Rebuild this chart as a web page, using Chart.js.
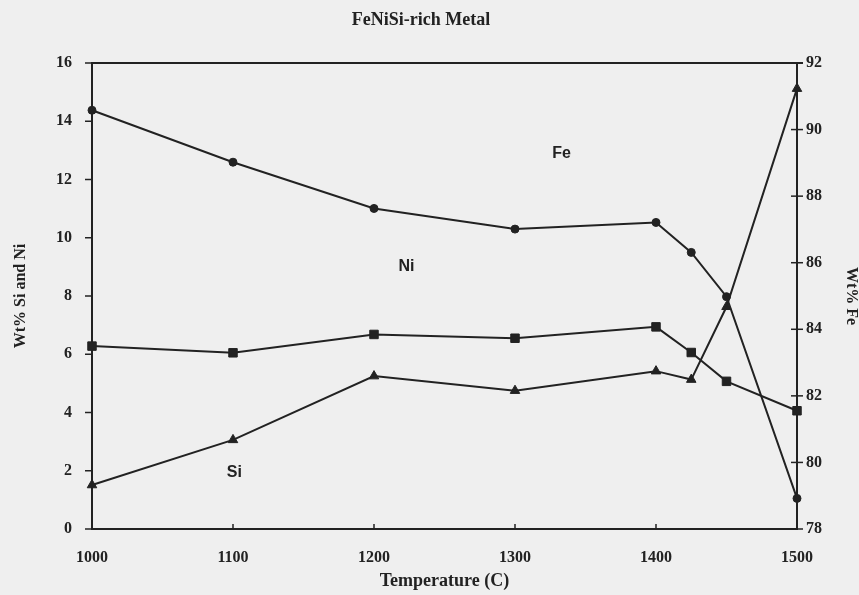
<!DOCTYPE html>
<html>
<head>
<meta charset="utf-8">
<script src="https://cdn.jsdelivr.net/npm/chart.js@4"></script>
<style>
html,body{margin:0;padding:0;background:#efefef;}
#wrap{width:859px;height:595px;position:relative;}
</style>
</head>
<body>
<div id="wrap"><canvas id="c" width="859" height="595"></canvas></div>
<script>
const temperatures = [1000, 1100, 1200, 1300, 1400, 1425, 1450, 1500];
const feValues = [90.58, 89.02, 87.63, 87.01, 87.21, 86.31, 84.98, 78.92];
const niValues = [6.28, 6.05, 6.68, 6.55, 6.94, 6.06, 5.07, 4.06];
const siValues = [1.51, 3.06, 5.25, 4.75, 5.42, 5.13, 7.63, 15.12];
const leftTicks = [0, 2, 4, 6, 8, 10, 12, 14, 16];
const rightTicks = [78, 80, 82, 84, 86, 88, 90, 92];
const xTicks = [1000, 1100, 1200, 1300, 1400, 1500];
const chartTitle = 'FeNiSi-rich Metal';
const xTitle = 'Temperature (C)';
const yTitle = 'Wt% Si and Ni';
const y2Title = 'Wt% Fe';
const seriesLabels = [
  {text: 'Fe', x: 1333, y: 12.9},
  {text: 'Ni', x: 1223, y: 9.0},
  {text: 'Si', x: 1101, y: 1.95}
];

const INK = '#222222';
const serif = '"Liberation Serif", "DejaVu Serif", serif';
const sans = '"Liberation Sans", Arial, sans-serif';

function pts(vals){ return temperatures.map((t,i)=>({x:t, y:vals[i]})); }

const extras = {
  id: 'extras',
  afterDraw(chart){
    const ctx = chart.ctx;
    const a = chart.chartArea;
    const sx = chart.scales.x, sy = chart.scales.y, sy2 = chart.scales.y2;
    ctx.save();
    ctx.strokeStyle = INK;
    ctx.lineWidth = 2;
    ctx.beginPath(); ctx.moveTo(a.left - 1, a.top); ctx.lineTo(a.right + 6, a.top); ctx.stroke();
    ctx.lineWidth = 1.5;
    leftTicks.forEach(v=>{ const p = sy.getPixelForValue(v); ctx.beginPath(); ctx.moveTo(a.left-7, p); ctx.lineTo(a.left, p); ctx.stroke(); });
    rightTicks.forEach(v=>{ const p = sy2.getPixelForValue(v); ctx.beginPath(); ctx.moveTo(a.right-6, p); ctx.lineTo(a.right+6, p); ctx.stroke(); });
    xTicks.slice(1, -1).forEach(v=>{ const p = sx.getPixelForValue(v); ctx.beginPath(); ctx.moveTo(p, a.bottom); ctx.lineTo(p, a.bottom-5); ctx.stroke(); });
    ctx.fillStyle = INK;
    ctx.font = 'bold 18px ' + serif;
    ctx.textAlign = 'center'; ctx.textBaseline = 'middle';
    ctx.fillText(chartTitle, 421, 20);
    ctx.font = 'bold 16px ' + sans;
    seriesLabels.forEach(l=>{ ctx.fillText(l.text, sx.getPixelForValue(l.x), sy.getPixelForValue(l.y)); });
    ctx.restore();
  }
};

const ds = (label, vals, style, radius, axis) => ({
  label, data: pts(vals), yAxisID: axis,
  borderColor: INK, backgroundColor: INK, borderWidth: 2,
  pointStyle: style, pointRadius: radius, pointHoverRadius: radius,
  pointBackgroundColor: INK, pointBorderColor: INK, pointBorderWidth: 1,
  tension: 0, fill: false, clip: false
});

const plain = v => String(v);

new Chart(document.getElementById('c'), {
  type: 'line',
  data: {
    datasets: [
      ds('Fe', feValues, 'circle', 4, 'y2'),
      ds('Ni', niValues, 'rect', 6, 'y'),
      ds('Si', siValues, 'triangle', 5.5, 'y')
    ]
  },
  plugins: [extras],
  options: {
    responsive: false,
    animation: false,
    layout: { padding: { top: 63, left: 0, right: 0, bottom: 0 } },
    plugins: { legend: { display: false }, tooltip: { enabled: false }, title: { display: false } },
    scales: {
      x: {
        type: 'linear', min: 1000, max: 1500,
        afterBuildTicks(s){ s.ticks = xTicks.map(v=>({value:v})); },
        afterFit(s){ s.height = 66; },
        grid: { display: false, drawTicks: false },
        border: { display: true, color: INK, width: 2 },
        ticks: { color: INK, font: { family: serif, size: 16, weight: 'bold' }, padding: 19, maxRotation: 0, callback: plain },
        title: { display: true, text: xTitle, color: INK, font: { family: serif, size: 18, weight: 'bold' }, padding: { top: 2, bottom: 3 } }
      },
      y: {
        position: 'left', min: 0, max: 16,
        afterBuildTicks(s){ s.ticks = leftTicks.map(v=>({value:v})); },
        afterFit(s){ s.width = 92; },
        grid: { display: false, drawTicks: false },
        border: { display: true, color: INK, width: 2 },
        ticks: { color: INK, font: { family: serif, size: 16, weight: 'bold' }, padding: 20, callback: plain },
        title: { display: true, text: yTitle, color: INK, font: { family: serif, size: 16, weight: 'bold' }, padding: { top: 11, bottom: 0 } }
      },
      y2: {
        position: 'right', min: 78, max: 92,
        afterBuildTicks(s){ s.ticks = rightTicks.map(v=>({value:v})); },
        afterFit(s){ s.width = 62; },
        grid: { display: false, drawTicks: false },
        border: { display: true, color: INK, width: 2 },
        ticks: { color: INK, font: { family: serif, size: 16, weight: 'bold' }, padding: 9, callback: plain },
        title: { display: true, text: y2Title, color: INK, font: { family: serif, size: 16, weight: 'bold' }, padding: { top: -2, bottom: 0 } }
      }
    }
  }
});
</script>
</body>
</html>
